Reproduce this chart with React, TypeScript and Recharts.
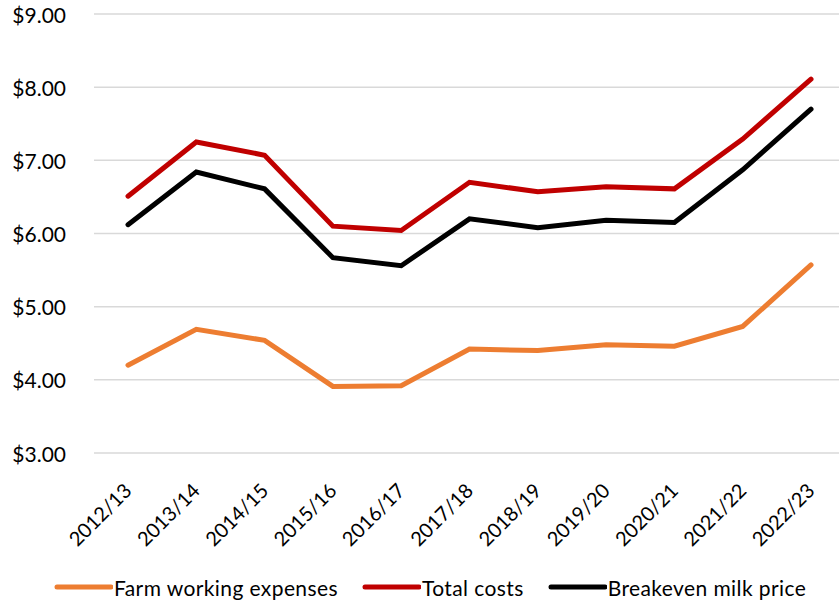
import React from "react";
import { LineChart, Line, XAxis, YAxis, CartesianGrid, Legend } from "recharts";

const categories = ["2012/13", "2013/14", "2014/15", "2015/16", "2016/17", "2017/18", "2018/19", "2019/20", "2020/21", "2021/22", "2022/23"];
const farmWorkingExpenses = [4.2, 4.69, 4.54, 3.91, 3.92, 4.42, 4.4, 4.48, 4.46, 4.73, 5.57];
const totalCosts = [6.51, 7.25, 7.07, 6.1, 6.04, 6.7, 6.57, 6.64, 6.61, 7.29, 8.11];
const breakevenMilkPrice = [6.12, 6.84, 6.61, 5.67, 5.56, 6.2, 6.08, 6.18, 6.15, 6.87, 7.7];
const yTicks = [3, 4, 5, 6, 7, 8, 9];

const seriesInfo = [
  { key: "farm", name: "Farm working expenses", color: "#ED7D31" },
  { key: "total", name: "Total costs", color: "#C00000" },
  { key: "breakeven", name: "Breakeven milk price", color: "#000000" },
];

const data = categories.map((c, i) => ({
  category: c,
  farm: farmWorkingExpenses[i],
  total: totalCosts[i],
  breakeven: breakevenMilkPrice[i],
}));

const FONT = "Lato, 'Open Sans', sans-serif";

const YTick = (props: any) => {
  const { y, payload } = props;
  return (
    <text x={66} y={y} textAnchor="end" dominantBaseline="central" fontSize={21} fill="#000" fontFamily={FONT}>
      {"$" + Number(payload.value).toFixed(2)}
    </text>
  );
};

const XTick = (props: any) => {
  const { x, y, payload } = props;
  const ax = x + 5;
  const ay = y + 31;
  return (
    <text x={ax} y={ay} textAnchor="end" fontSize={20} fill="#000" fontFamily={FONT} transform={`rotate(-45, ${ax}, ${ay})`}>
      {payload.value}
    </text>
  );
};

const LegendContent = () => (
  <div style={{ display: "flex", alignItems: "center", marginLeft: 54, marginTop: 8, fontFamily: FONT, fontSize: 21, letterSpacing: 0.4, color: "#000", height: 40 }}>
    {seriesInfo.map((s, i) => (
      <div key={s.key} style={{ display: "flex", alignItems: "center", marginRight: i < seriesInfo.length - 1 ? 24 : 0 }}>
        <svg width={59} height={8} style={{ marginRight: 1 }}>
          <line x1={3} y1={4} x2={57} y2={4} stroke={s.color} strokeWidth={5} strokeLinecap="round" />
        </svg>
        <span>{s.name}</span>
      </div>
    ))}
  </div>
);

export default function App() {
  return (
    <div style={{ position: "absolute", left: 0, top: 0, width: 839, height: 603, overflow: "hidden", background: "#fff" }}>
      <LineChart width={845} height={603} data={data} margin={{ top: 14, right: 0, bottom: 0, left: 0 }}>
        <CartesianGrid vertical={false} stroke="#D9D9D9" strokeWidth={1.5} />
        <XAxis dataKey="category" axisLine={false} tickLine={false} interval={0} height={106} padding={{ left: 34, right: 34 }} tick={<XTick />} />
        <YAxis domain={[3, 9]} ticks={yTicks} width={94} axisLine={false} tickLine={false} tick={<YTick />} />
        <Legend verticalAlign="bottom" height={44} content={<LegendContent />} wrapperStyle={{ left: 0, width: 845 }} />
        {seriesInfo.map((s) => (
          <Line
            key={s.key}
            type="linear"
            dataKey={s.key}
            name={s.name}
            stroke={s.color}
            strokeWidth={5}
            dot={false}
            isAnimationActive={false}
            strokeLinecap="round"
          />
        ))}
      </LineChart>
    </div>
  );
}
